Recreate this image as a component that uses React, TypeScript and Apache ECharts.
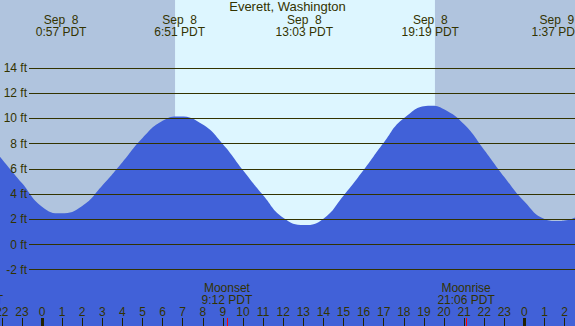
import React, { useEffect, useRef } from 'react';
import * as echarts from 'echarts';

const TITLE = 'Everett, Washington';

// Tide curve: hours since Sep 8 00:00 PDT, height in feet
const tideHours = [-2.09, -1, 0, 0.95, 2, 3, 4, 5, 6, 6.85, 8, 9, 10, 11, 12, 13.05, 14, 15, 16, 17, 18, 19.32, 20, 21, 22, 23, 24, 25, 25.62, 26, 26.52];
const tideFeet = [6.96, 4.87, 3.0, 2.47, 3.05, 4.67, 6.52, 8.44, 9.8, 10.15, 9.5, 7.94, 5.88, 3.9, 2.12, 1.55, 2.05, 3.87, 5.9, 8.07, 10.0, 11.0, 10.72, 9.52, 7.49, 5.35, 3.4, 2.02, 1.86, 1.9, 2.15];

// High / low tide events
const extremeHours = [0.95, 6.85, 13.05, 19.317, 25.617];
const extremeDates = ['Sep\u00a0\u00a08', 'Sep\u00a0\u00a08', 'Sep\u00a0\u00a08', 'Sep\u00a0\u00a08', 'Sep\u00a0\u00a09'];
const extremeTimes = ['0:57 PDT', '6:51 PDT', '13:03 PDT', '19:19 PDT', '1:37 PDT'];

// Moon events
const moonHours = [-3.367, 9.2, 21.1];
const moonEvents = ['Moonrise', 'Moonset', 'Moonrise'];
const moonTimes = ['20:38 PDT', '9:12 PDT', '21:06 PDT'];

// Daylight
const sunriseHour = 6.62;
const sunsetHour = 19.55;

// Hour ticks
const hourTicks = [-2, -1, 0, 1, 2, 3, 4, 5, 6, 7, 8, 9, 10, 11, 12, 13, 14, 15, 16, 17, 18, 19, 20, 21, 22, 23, 24, 25, 26];
const midnightTicks = [0, 24];

// Height gridlines
const feetMin = -2;
const feetMax = 14;
const feetStep = 2;

const W = 575;
const H = 326;
const X0 = 42; // pixel of hour 0
const PXH = 20.1; // pixels per hour
const Y0 = 244.5; // pixel of 0 ft
const PXF = 12.62; // pixels per foot
const GRID_LEFT = -60;

const NIGHT = '#b0c4de';
const DAY = '#ddf6ff';
const BLUE = '#4161d8';
const TEXT = '#333300';
const FONT = 'Liberation Sans, Arial, sans-serif';

export default function App() {
  const ref = useRef<HTMLDivElement>(null);
  useEffect(() => {
    if (!ref.current) return;
    const chart = echarts.init(ref.current, undefined, { renderer: 'svg' });
    const xMin = (GRID_LEFT - X0) / PXH;
    const xMax = (W - X0) / PXH;
    const yMin = (Y0 - H) / PXF;
    const yMax = Y0 / PXF;
    const yTopPx = Y0 - feetMax * PXF;
    const yBotPx = Y0 - feetMin * PXF;
    const baseX = {
      type: 'value',
      gridIndex: 0,
      min: xMin,
      max: xMax,
      splitLine: { show: false },
      axisLine: { show: false, onZero: false },
      z: 5,
    };
    chart.setOption({
      animation: false,
      backgroundColor: NIGHT,
      title: {
        text: TITLE,
        left: 'center',
        top: 0,
        padding: 0,
        z: 10,
        textStyle: { fontSize: 13, fontWeight: 'normal', color: TEXT, fontFamily: FONT },
      },
      grid: [
        { left: GRID_LEFT, right: 0, top: 0, bottom: 0, containLabel: false, outerBoundsMode: 'none' },
        { left: 29, right: 0, top: yTopPx, bottom: H - yBotPx, containLabel: false, outerBoundsMode: 'none' },
      ],
      xAxis: [
        {
          ...baseX,
          position: 'bottom',
          axisTick: { show: true, customValues: hourTicks, inside: true, length: 8, lineStyle: { color: '#222200', width: 1 } },
          axisLabel: {
            show: true,
            customValues: hourTicks,
            inside: true,
            margin: 8,
            color: TEXT,
            fontSize: 12,
            fontFamily: FONT,
            formatter: (v: number) => String(((v % 24) + 24) % 24),
          },
        },
        {
          ...baseX,
          position: 'bottom',
          axisTick: { show: true, customValues: midnightTicks, inside: true, length: 8, lineStyle: { color: '#222200', width: 3 } },
          axisLabel: { show: false },
        },
        {
          ...baseX,
          position: 'bottom',
          axisTick: { show: true, customValues: moonHours, inside: true, length: 8, lineStyle: { color: '#ff0000', width: 1 } },
          axisLabel: {
            show: true,
            customValues: moonHours,
            inside: true,
            margin: 20,
            color: TEXT,
            fontSize: 12,
            lineHeight: 12,
            fontFamily: FONT,
            formatter: (v: number) => {
              const i = moonHours.indexOf(v);
              return i < 0 ? '' : moonEvents[i] + '\n' + moonTimes[i];
            },
          },
        },
        {
          ...baseX,
          position: 'top',
          axisTick: { show: false },
          axisLabel: {
            show: true,
            customValues: extremeHours,
            inside: true,
            margin: 14,
            color: TEXT,
            fontSize: 12,
            lineHeight: 12,
            fontFamily: FONT,
            formatter: (v: number) => {
              const i = extremeHours.indexOf(v);
              return i < 0 ? '' : extremeDates[i] + '\n' + extremeTimes[i];
            },
          },
        },
        { type: 'value', gridIndex: 1, show: false, axisLine: { onZero: false } },
      ],
      yAxis: [
        { type: 'value', gridIndex: 0, min: yMin, max: yMax, show: false, axisLine: { onZero: false } },
        {
          type: 'value',
          gridIndex: 1,
          min: feetMin,
          max: feetMax,
          interval: feetStep,
          z: 5,
          axisLine: { show: false, onZero: false },
          axisTick: { show: false },
          splitLine: { show: true, lineStyle: { color: TEXT, width: 1 } },
          axisLabel: { margin: 2, color: TEXT, fontSize: 12, fontFamily: FONT, formatter: (v: number) => `${v} ft` },
        },
      ],
      series: [
        {
          type: 'line',
          xAxisIndex: 0,
          yAxisIndex: 0,
          data: [],
          z: 1,
          silent: true,
          markArea: {
            silent: true,
            itemStyle: { color: DAY },
            data: [[{ xAxis: sunriseHour }, { xAxis: sunsetHour }]],
          },
        },
        {
          type: 'line',
          xAxisIndex: 0,
          yAxisIndex: 0,
          z: 2,
          silent: true,
          smooth: 0.5,
          symbol: 'none',
          data: tideHours.map((h, i) => [h, tideFeet[i]]),
          lineStyle: { width: 0, color: BLUE },
          areaStyle: { color: BLUE, opacity: 1, origin: 'start' },
        },
      ],
    });
    return () => chart.dispose();
  }, []);
  return <div ref={ref} style={{ position: 'fixed', left: 0, top: 0, width: W, height: H }} />;
}
